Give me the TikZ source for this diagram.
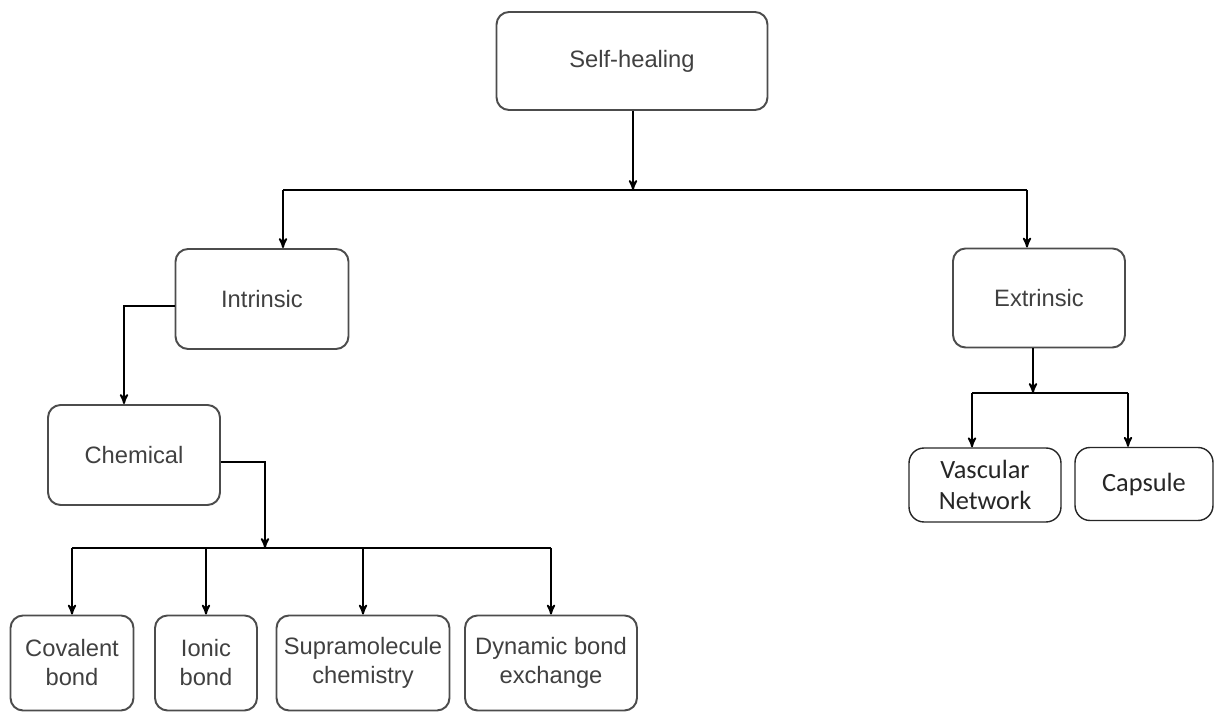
\documentclass[tikz,border=0pt]{standalone}
\usepackage{fontspec}
\setmainfont{Liberation Sans}
\newfontfamily\calfont{Carlito}
\usetikzlibrary{arrows}
\usetikzlibrary{positioning}

\begin{document}
\begin{tikzpicture}[
		x=0.02cm,
		y=-0.02cm,
		>=stealth',
		line width=1pt,
		main node/.style={
			draw=black!70,
			line width=1.1pt,
			rounded corners=0.25cm,
			align=center,
			inner sep=0pt,
			text=black!75,
			font=\fontsize{13.5}{16.5}\selectfont
		},
		soft node/.style={
			main node,
			draw=black!85,
			line width=0.8pt,
			rounded corners=0.3cm,
			text=black!85,
			font=\calfont\fontsize{15}{18}\selectfont
		}
		]
		\useasboundingbox (0,0) rectangle (1221,715);
		
		\node[main node, minimum width=5.42cm, minimum height=1.96cm] (self) at (632,61) {Self-healing};
		\node[main node, minimum width=3.46cm, minimum height=2.0cm] (intr) at (262,299) {Intrinsic};
		\node[main node, minimum width=3.44cm, minimum height=1.98cm] (extr) at (1039,298) {Extrinsic};
		\node[main node, minimum width=3.44cm, minimum height=2.0cm] (chem) at (134,455) {Chemical};
		\node[main node, minimum width=2.46cm, minimum height=1.9cm] (cov) at (72,663) {Covalent\\bond};
		\node[main node, minimum width=2.04cm, minimum height=1.9cm] (ion) at (206,663) {Ionic\\bond};
		\node[main node, minimum width=3.46cm, minimum height=1.9cm] (sup) at (363,663) {Supramolecule\\chemistry};
		\node[main node, minimum width=3.44cm, minimum height=1.9cm] (dyn) at (551,663) {Dynamic bond\\exchange};
		\node[soft node, minimum width=3.04cm, minimum height=1.48cm] (vasc) at (985,485) {Vascular\\Network};
		\node[soft node, minimum width=2.76cm, minimum height=1.46cm] (caps) at (1144,484) {Capsule};
		
		% branch points
		\coordinate (top split) at (633,190);
		\coordinate (intr in) at (283,190);
		\coordinate (extr in) at (1027,190);
		\coordinate (chem split) at (265,548);
		\coordinate (extr split) at (1033,393);
		\coordinate (vasc in) at (972,393);
		\coordinate (caps in) at (1128,393);
		
		\draw[->] (self.south -| top split) -- (top split);
		\draw (intr in) -- (extr in);
		\draw[->] (intr in) -- (intr in |- intr.north);
		\draw[->] (extr in) -- (extr in |- extr.north);
		
		\draw[->] ([yshift=-0.14cm]intr.west) -| ([xshift=-0.2cm]chem.north);
		\draw[->] ([yshift=-0.14cm]chem.east) -| (chem split);
		\draw (cov.north |- chem split) -- (dyn.north |- chem split);
		\foreach \n in {cov,ion,sup,dyn}
			\draw[->] (\n.north |- chem split) -- (\n.north);
		
		\draw[->] (extr.south -| extr split) -- (extr split);
		\draw (vasc in) -- (caps in);
		\draw[->] (vasc in) -- (vasc in |- vasc.north);
		\draw[->] (caps in) -- (caps in |- caps.north);
	\end{tikzpicture}
\end{document}
